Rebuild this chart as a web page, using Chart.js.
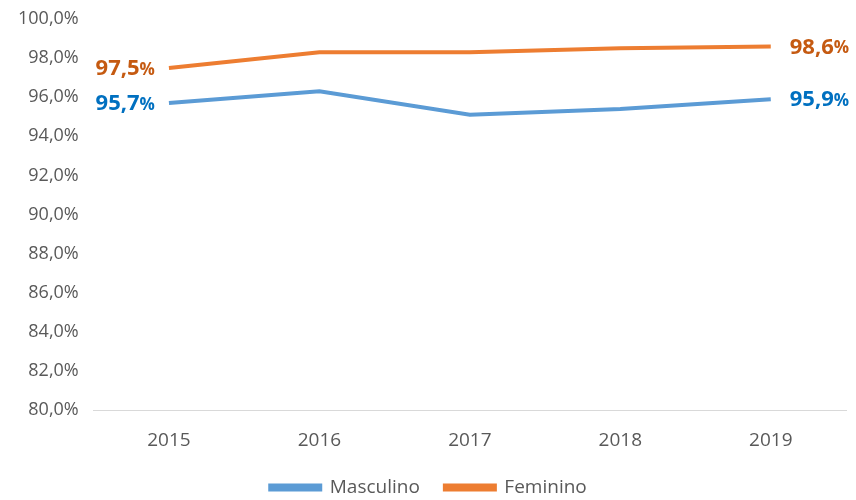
<!DOCTYPE html>
<html>
<head>
<meta charset="utf-8">
<script src="https://cdn.jsdelivr.net/npm/chart.js@4"></script>
<style>
  html, body { margin: 0; padding: 0; background: #fff; overflow: hidden; }
  #wrap { width: 856px; height: 500px; }
</style>
</head>
<body>
<div id="wrap"><canvas id="chart"></canvas></div>
<script>
// values
const years = ['2015', '2016', '2017', '2018', '2019'];
const masculino = [95.7, 96.3, 95.1, 95.4, 95.9];
const feminino = [97.5, 98.3, 98.3, 98.5, 98.6];
const yTicks = [80, 82, 84, 86, 88, 90, 92, 94, 96, 98, 100];

const fmt = v => v.toFixed(1).replace('.', ',');
const tickFont = "'Open Sans', sans-serif";
const labelFont = "'Open Sans', sans-serif";

// end labels: first point on the left, last point on the right
const endLabels = {
    id: 'endLabels',
    afterDatasetsDraw(chart) {
        const ctx = chart.ctx;
        chart.data.datasets.forEach((ds, i) => {
            const pts = chart.getDatasetMeta(i).data;
            const last = pts.length - 1;
            [[0, 'left'], [last, 'right']].forEach(([idx, side]) => {
                const p = pts[idx];
                const num = fmt(ds.data[idx]);
                ctx.save();
                ctx.fillStyle = ds.labelColor;
                ctx.textBaseline = 'middle';
                ctx.font = `bold 22px ${labelFont}`;
                const wNum = ctx.measureText(num).width;
                ctx.font = `bold 17px ${labelFont}`;
                const wPct = ctx.measureText('%').width;
                let x = side === 'left' ? p.x - 14 - wNum - wPct : p.x + 19;
                ctx.font = `bold 22px ${labelFont}`;
                ctx.fillText(num, x, p.y + 1);
                ctx.font = `bold 17px ${labelFont}`;
                ctx.fillText('%', x + wNum, p.y + 2);
                ctx.restore();
            });
        });
    }
};

new Chart(document.getElementById('chart'), {
    type: 'line',
    data: {
        labels: years,
        datasets: [
            { label: 'Masculino', data: masculino, borderColor: '#5B9BD5', backgroundColor: '#5B9BD5', labelColor: '#0070C0' },
            { label: 'Feminino', data: feminino, borderColor: '#ED7D31', backgroundColor: '#ED7D31', labelColor: '#C55A11' }
        ]
    },
    options: {
        responsive: true,
        maintainAspectRatio: false,
        animation: false,
        elements: { line: { borderWidth: 4, tension: 0 }, point: { radius: 0 } },
        layout: { padding: { left: 11, right: 10, top: 19, bottom: -7 } },
        scales: {
            x: {
                offset: true,
                grid: { display: false },
                border: { display: true, color: '#d9d9d9', width: 1 },
                ticks: { color: '#595959', font: { family: tickFont, size: 19 }, padding: 11 },
                afterFit: axis => { axis.height -= 10; }
            },
            y: {
                min: 80, max: 100,
                afterBuildTicks: axis => { axis.ticks = yTicks.map(v => ({ value: v })); },
                grid: { display: false },
                border: { display: false },
                ticks: { color: '#595959', font: { family: tickFont, size: 18 }, padding: 7, callback: v => fmt(v) + '%' }
            }
        },
        plugins: {
            legend: {
                position: 'bottom',
                labels: { boxWidth: 50, boxHeight: 4, color: '#595959', padding: 25, font: { family: tickFont, size: 19 } }
            },
            tooltip: { enabled: false }
        }
    },
    plugins: [endLabels]
});
</script>
</body>
</html>
